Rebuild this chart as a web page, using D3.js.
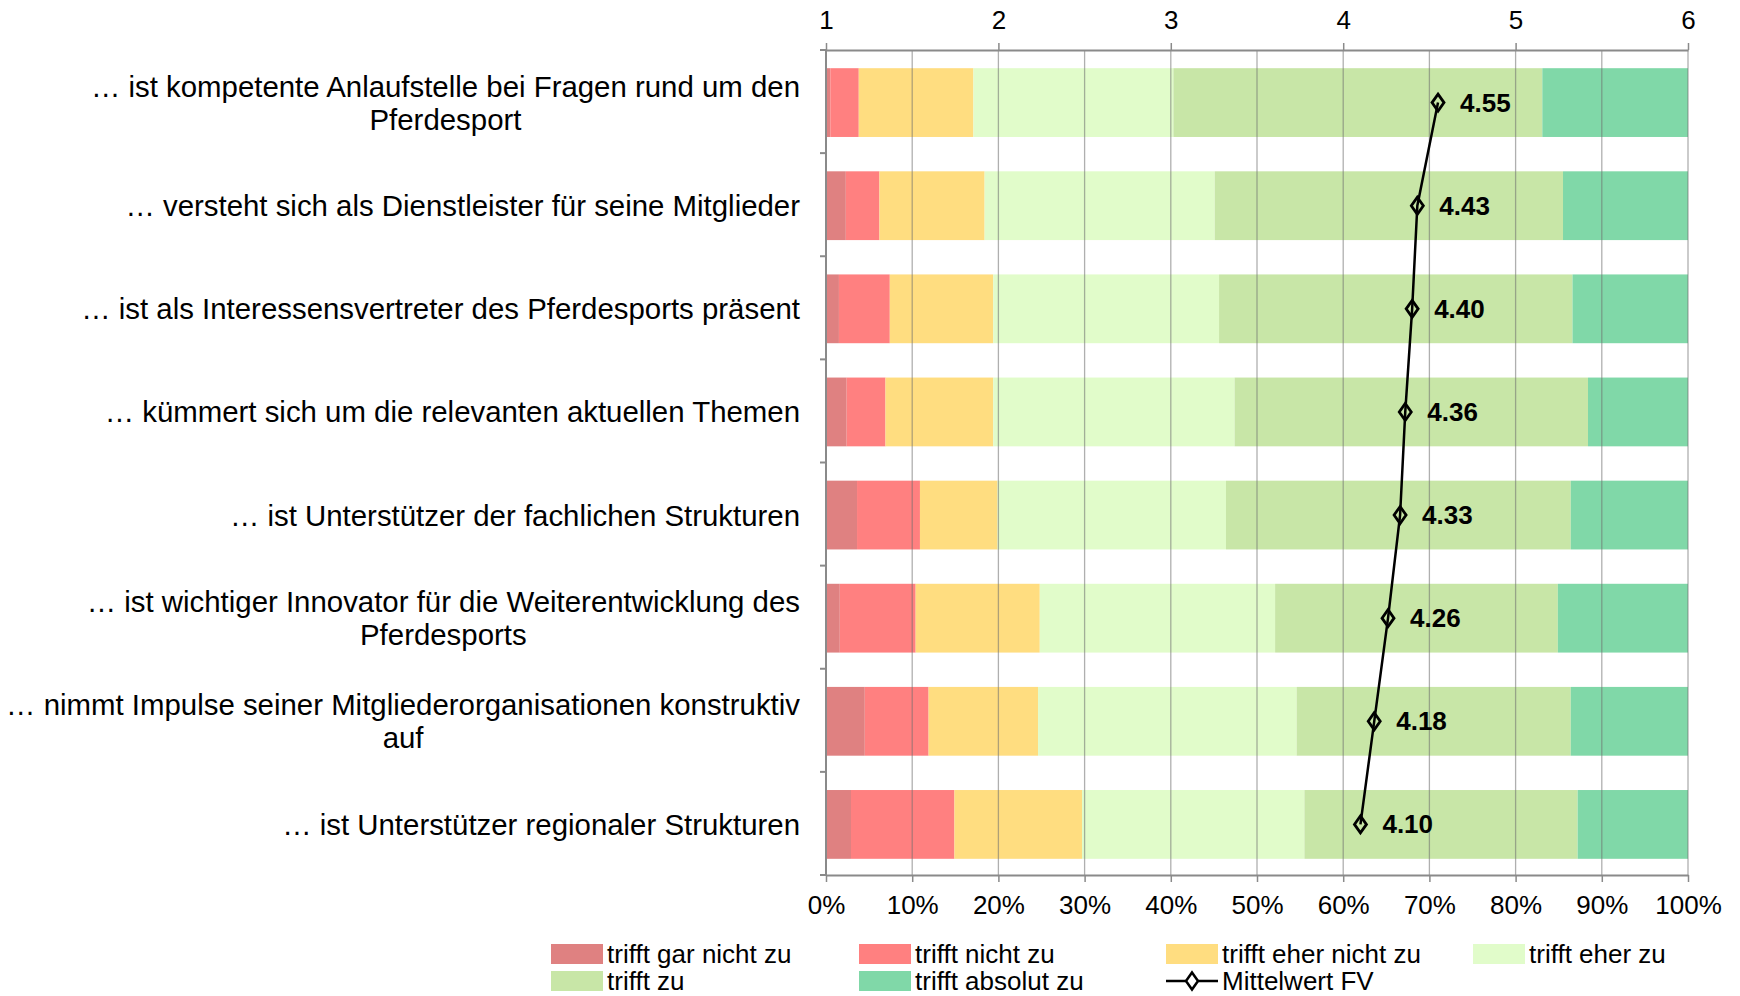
<!DOCTYPE html>
<html>
<head>
<meta charset="utf-8">
<script src="https://cdn.jsdelivr.net/npm/d3@7"></script>
<style>
  html, body { margin: 0; padding: 0; background: #fff; }
  svg { display: block; font-family: "Liberation Sans", Arial, sans-serif; }
</style>
</head>
<body>
<svg id="chart" width="1740" height="996"></svg>
<script>
// Statements (each label may span several lines)
const categories = [
  ["… ist kompetente Anlaufstelle bei Fragen rund um den", "Pferdesport"],
  ["… versteht sich als Dienstleister für seine Mitglieder"],
  ["… ist als Interessensvertreter des Pferdesports präsent"],
  ["… kümmert sich um die relevanten aktuellen Themen"],
  ["… ist Unterstützer der fachlichen Strukturen"],
  ["… ist wichtiger Innovator für die Weiterentwicklung des", "Pferdesports"],
  ["… nimmt Impulse seiner Mitgliederorganisationen konstruktiv", "auf"],
  ["… ist Unterstützer regionaler Strukturen"]
];

const seriesNames = ["trifft gar nicht zu", "trifft nicht zu", "trifft eher nicht zu",
                     "trifft eher zu", "trifft zu", "trifft absolut zu"];

// Answer shares in percent, one array per answer option (same order as categories)
const garNicht   = [0.5, 2.3, 1.5, 2.4, 3.6, 1.6, 4.5, 2.9];
const nicht      = [3.3, 3.9, 5.9, 4.5, 7.3, 8.8, 7.4, 12.0];
const eherNicht  = [13.3, 12.2, 12.0, 12.5, 9.0, 14.4, 12.7, 14.8];
const eherZu     = [23.2, 26.7, 26.2, 28.0, 26.5, 27.3, 30.0, 25.8];
const zu         = [42.8, 40.4, 41.0, 41.0, 40.0, 32.8, 31.8, 31.7];
const absolut    = [16.9, 14.5, 13.4, 11.6, 13.6, 15.1, 13.6, 12.8];

// Mean rating on the 1–6 scale
const mittelwert = [4.55, 4.43, 4.40, 4.36, 4.33, 4.26, 4.18, 4.10];

const pctTicks   = [0, 10, 20, 30, 40, 50, 60, 70, 80, 90, 100];
const scaleTicks = [1, 2, 3, 4, 5, 6];

const colors = ["#DF8181", "#FF8080", "#FFDD80", "#E1FCCA", "#C8E6A7", "#80D8A8"];

const svg = d3.select("#chart");
const plotLeft = 826, plotRight = 1688, plotTop = 50, plotBottom = 875;
const fontSize = 26;
const labelFontSize = 29.4;

const x = d3.scaleLinear().domain([0, 100]).range([plotLeft, plotRight]);
const xMean = d3.scaleLinear().domain([1, 6]).range([plotLeft, plotRight]);
const y = d3.scaleBand().domain(d3.range(categories.length)).range([plotTop + 1, plotBottom + 1])
  .paddingInner(0.333).paddingOuter(0.1667);

// Stack the percentage series
const seriesArrays = [garNicht, nicht, eherNicht, eherZu, zu, absolut];
const rows = categories.map((c, i) => {
  const r = { idx: i };
  seriesNames.forEach((s, k) => r[s] = seriesArrays[k][i]);
  return r;
});
const stacked = d3.stack().keys(seriesNames)(rows);

// Bars
svg.append("g").selectAll("g").data(stacked).join("g")
  .attr("fill", (d, k) => colors[k])
  .selectAll("rect").data(d => d).join("rect")
  .attr("x", d => x(d[0]))
  .attr("width", d => x(d[1]) - x(d[0]))
  .attr("y", d => y(d.data.idx))
  .attr("height", y.bandwidth());

// Vertical gridlines drawn over the bars
svg.append("g").selectAll("line").data(pctTicks.slice(1)).join("line")
  .attr("x1", d => x(d)).attr("x2", d => x(d))
  .attr("y1", plotTop).attr("y2", plotBottom)
  .attr("stroke", "#6e6e6e").attr("stroke-opacity", 0.55).attr("stroke-width", 1.3);

// Bottom axis (percent)
const axisBottom = svg.append("g").attr("transform", `translate(0,${plotBottom})`)
  .call(d3.axisBottom(x).tickValues(pctTicks).tickFormat(d => d + "%").tickSizeInner(7).tickSizeOuter(0).tickPadding(14));

// Top axis (1–6 scale)
const axisTop = svg.append("g").attr("transform", `translate(0,${plotTop})`)
  .call(d3.axisTop(xMean).tickValues(scaleTicks).tickFormat(d3.format("d")).tickSizeInner(7).tickSizeOuter(0).tickPadding(14));

// Left axis with ticks between categories
const leftAxis = svg.append("g");
leftAxis.append("line").attr("x1", plotLeft).attr("x2", plotLeft).attr("y1", plotTop).attr("y2", plotBottom);
leftAxis.selectAll("line.t").data(d3.range(categories.length + 1)).join("line").attr("class", "t")
  .attr("x1", plotLeft - 6).attr("x2", plotLeft)
  .attr("y1", i => plotTop + i * (plotBottom - plotTop) / categories.length)
  .attr("y2", i => plotTop + i * (plotBottom - plotTop) / categories.length);
leftAxis.selectAll("line").attr("stroke", "#8a8a8a").attr("stroke-width", 2);

[axisBottom, axisTop].forEach(a => {
  a.select(".domain").attr("stroke", "#8a8a8a").attr("stroke-width", 2);
  a.selectAll(".tick line").attr("stroke", "#8a8a8a").attr("stroke-width", 1.5);
  a.selectAll(".tick text").attr("font-size", fontSize).attr("fill", "#000")
    .attr("font-family", "'Liberation Sans', Arial, sans-serif");
});

// Category labels: block right-aligned, lines centred within block
const labelRight = 800, lineGap = 33;
categories.forEach((lines, i) => {
  const cy = y(i) + y.bandwidth() / 2;
  const g = svg.append("g");
  const texts = lines.map((ln, j) => g.append("text")
    .attr("font-size", labelFontSize).attr("fill", "#000")
    .attr("dominant-baseline", "central")
    .attr("y", cy + (j - (lines.length - 1) / 2) * lineGap)
    .text(ln));
  const maxW = d3.max(texts, t => t.node().getComputedTextLength());
  texts.forEach(t => t.attr("text-anchor", "middle").attr("x", labelRight - maxW / 2));
});

// Mean line with diamond markers
const meanPts = mittelwert.map((v, i) => [xMean(v), y(i) + y.bandwidth() / 2]);
svg.append("path").datum(meanPts)
  .attr("d", d3.line())
  .attr("fill", "none").attr("stroke", "#000").attr("stroke-width", 2.5);

const diamond = (cx, cy) => `M${cx},${cy - 8.5}L${cx + 6},${cy}L${cx},${cy + 8.5}L${cx - 6},${cy}Z`;
svg.append("g").selectAll("path").data(meanPts).join("path")
  .attr("d", d => diamond(d[0], d[1]))
  .attr("fill", "none").attr("stroke", "#000").attr("stroke-width", 2.8);

svg.append("g").selectAll("text").data(mittelwert).join("text")
  .attr("x", (d, i) => xMean(d) + 22)
  .attr("y", (d, i) => y(i) + y.bandwidth() / 2)
  .attr("dominant-baseline", "central")
  .attr("font-size", fontSize).attr("font-weight", "bold").attr("fill", "#000")
  .text(d => d3.format(".2f")(d));

// Legend
const legendCols = [551, 859, 1166, 1473];
const legendRows = [954, 981];
const legendItems = seriesNames.map((n, k) => ({ name: n, color: colors[k] }))
  .concat([{ name: "Mittelwert FV", line: true }]);
const lg = svg.append("g");
legendItems.forEach((item, k) => {
  const lx = legendCols[k % 4], ly = legendRows[Math.floor(k / 4)];
  if (item.line) {
    lg.append("line").attr("x1", lx).attr("x2", lx + 52).attr("y1", ly).attr("y2", ly)
      .attr("stroke", "#000").attr("stroke-width", 2.5);
    lg.append("path").attr("d", diamond(lx + 26, ly)).attr("fill", "#fff")
      .attr("stroke", "#000").attr("stroke-width", 2.5);
  } else {
    lg.append("rect").attr("x", lx).attr("y", ly - 10).attr("width", 52).attr("height", 20)
      .attr("fill", item.color);
  }
  lg.append("text").attr("x", lx + 56).attr("y", ly).attr("dominant-baseline", "central")
    .attr("font-size", fontSize).attr("fill", "#000").text(item.name);
});
</script>
</body>
</html>
